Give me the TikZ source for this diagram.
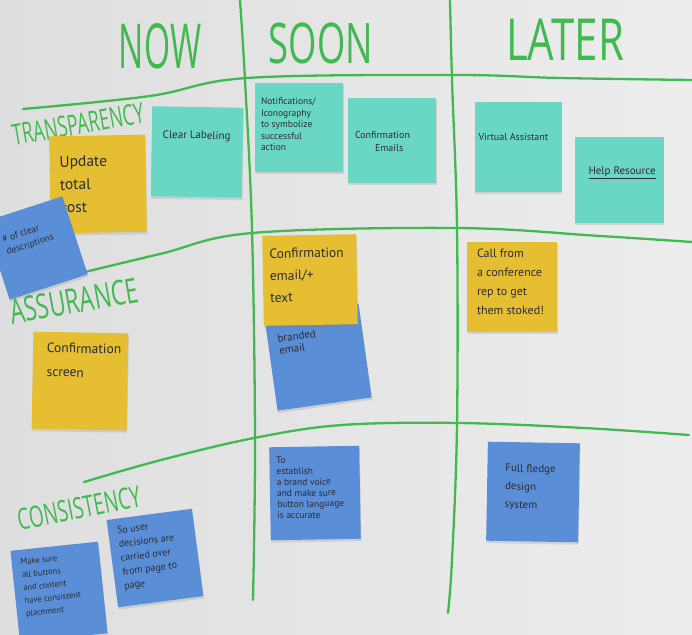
\documentclass[tikz,border=0pt]{standalone}
\usepackage{fontspec}
\setmainfont{PT Sans}
\newfontfamily\markerfont{Open Sans}
\usetikzlibrary{shadows}

\definecolor{boardL}{RGB}{222,222,223}
\definecolor{boardR}{RGB}{237,237,238}
\definecolor{marker}{RGB}{64,186,80}
\definecolor{ink}{RGB}{44,44,50}
\definecolor{noteyellow}{RGB}{229,190,50}
\definecolor{noteteal}{RGB}{106,215,196}
\definecolor{noteblue}{RGB}{90,142,215}

% width, height, left pad, top pad, text
\newcommand\notetxt[5]{\parbox[c][#2pt][t]{#1pt}{\raggedright\leftskip=#3pt\relax\vspace*{#4pt}#5}}
\newcommand\fs[2]{\fontsize{#1}{#2}\selectfont}

\tikzset{
  sticky/.style={inner sep=0pt, outer sep=0pt, text=ink,
    drop shadow={shadow xshift=0.6pt, shadow yshift=-2.4pt, opacity=0.22}},
  gridline/.style={draw=marker, line width=2.3pt, line cap=round, line join=round},
  heading/.style={text=marker, font=\markerfont, inner sep=0pt},
}

\begin{document}
\begin{tikzpicture}[x=1pt, y=-1pt]
  \useasboundingbox (0,0) rectangle (692,634);
  \shade[left color=boardL, right color=boardR] (0,0) rectangle (692,634);
  \clip (0,0) rectangle (692,634);

  % column dividers
  \draw[gridline] plot[smooth, tension=0.6] coordinates {(240,0) (245,80) (252,230) (255,440) (253,600)};
  \draw[gridline] plot[smooth, tension=0.6] coordinates {(450,0) (452,80) (457,228) (457,425) (452,560) (448,613)};
  % row dividers
  \draw[gridline] plot[smooth, tension=0.6] coordinates {(23,109) (150,96) (247,78) (455,75) (560,78) (692,80)};
  \draw[gridline] plot[smooth, tension=0.6] coordinates {(60,278) (160,254) (252,233) (457,228) (600,236) (692,242)};
  \draw[gridline] plot[smooth, tension=0.6] coordinates {(84,482) (161,460) (254,438) (342,425) (459,423) (584,428) (689,435)};

  % column headings
  \node[heading] (now) at (160,46) {\scalebox{0.84}[1.55]{\fs{40}{40}NOW}};
  \node[heading] (soon) at (321,43) {\scalebox{0.91}[1.4]{\fs{40}{40}SOON}};
  \node[heading] (later) at (565,40) {\scalebox{1.05}[1.45]{\fs{40}{40}LATER}};

  % row headings
  \node[heading, rotate=10] (transp) at (78,124) {\scalebox{1.0}[1.6]{\fs{18}{18}TRANSPARENCY}};
  \node[heading, rotate=10] (assur) at (74,301) {\scalebox{1.0}[1.5]{\fs{23}{23}ASSURANCE}};
  \node[heading, rotate=11] (consis) at (79,508) {\scalebox{1.0}[1.55]{\fs{19}{19}CONSISTENCY}};

  % NOW / transparency
  \node[sticky, fill=noteyellow, rotate=1] (upd) at (98,184)
    {\notetxt{96}{97}{10}{20}{\fs{15.5}{23}Update\\total\\cost}};
  \node[sticky, fill=noteblue, rotate=18] (desc) at (36,248)
    {\notetxt{82}{82}{12}{19}{\fs{9.5}{13}\# of clear\\descriptions}};
  \node[sticky, fill=noteteal, rotate=-1] (clear) at (197,152)
    {\notetxt{91}{90}{11}{24}{\fs{11}{12}Clear Labeling}};

  % SOON / transparency
  \node[sticky, fill=noteteal] (notif) at (299,127.5)
    {\notetxt{88}{89}{6}{15}{\fs{9.5}{11.5}Notifications/\\Iconography\\to symbolize\\successful\\action}};
  \node[sticky, fill=noteteal] (cemail) at (392,140.5)
    {\notetxt{88}{85}{7}{33}{\fs{10}{13}Confirmation\\\hspace*{20pt}Emails}};

  % LATER / transparency
  \node[sticky, fill=noteteal] (virt) at (518,147)
    {\notetxt{87}{90}{4}{31}{\fs{10}{11}Virtual Assistant}};
  \node[sticky, fill=noteteal] (help) at (619,180)
    {\notetxt{89}{86}{14}{30}{\fs{11}{12}\underline{Help Resource}}};

  % SOON / assurance
  \node[sticky, fill=noteblue, rotate=8] (brand) at (318,357)
    {\notetxt{95}{95}{10}{20}{\fs{11}{12}branded\\email}};
  \node[sticky, fill=noteyellow, rotate=1] (ctext) at (310,280)
    {\notetxt{94}{90}{7}{13}{\fs{13.5}{22}Confirmation\\email/+\\text}};

  % LATER / assurance
  \node[sticky, fill=noteyellow] (call) at (512,287)
    {\notetxt{90}{90}{10}{7}{\fs{12}{19}Call from\\a conference\\rep to get\\them stoked!}};

  % NOW / assurance
  \node[sticky, fill=noteyellow, rotate=-1] (cscreen) at (80,381)
    {\notetxt{95}{97}{14}{11}{\fs{13.5}{24}Confirmation\\screen}};

  % NOW / consistency
  \node[sticky, fill=noteblue, rotate=6] (buttons) at (59,592)
    {\notetxt{88}{92}{9}{9}{\fs{8.5}{13}Make sure\\all buttons\\and content\\have consistent\\placement}};
  \node[sticky, fill=noteblue, rotate=7.5] (user) at (155,558)
    {\notetxt{86}{88}{9}{8}{\fs{10}{14}So user\\decisions are\\carried over\\from page to\\page}};

  % SOON / consistency
  \node[sticky, fill=noteblue, rotate=1] (voice) at (315,493)
    {\notetxt{90}{93}{7}{10}{\fs{9.5}{11}To\\establish\\a brand voice\\and make sure\\button language\\is accurate}};

  % LATER / consistency
  \node[sticky, fill=noteblue, rotate=-1] (system) at (533,492)
    {\notetxt{92}{99}{18}{22}{\fs{11}{18}Full fledge\\design\\system}};
\end{tikzpicture}
\end{document}
